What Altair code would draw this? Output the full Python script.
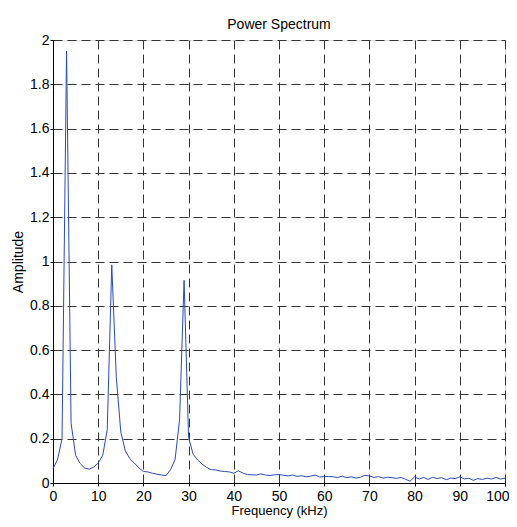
import altair as alt
import pandas as pd

freq_khz = list(range(0, 101))
amplitude = [
    0.065, 0.105, 0.20, 1.95, 0.27, 0.125, 0.088, 0.068, 0.062, 0.072,
    0.090, 0.125, 0.24, 0.985, 0.48, 0.23, 0.145, 0.110, 0.090, 0.068,
    0.052, 0.050, 0.044, 0.040, 0.036, 0.033, 0.060, 0.105, 0.285, 0.915,
    0.205, 0.130, 0.104, 0.085, 0.070, 0.060, 0.059, 0.054, 0.052, 0.050,
    0.044, 0.055, 0.045, 0.038, 0.037, 0.036, 0.041, 0.036, 0.034, 0.037,
    0.038, 0.035, 0.032, 0.036, 0.030, 0.033, 0.028, 0.031, 0.036, 0.027,
    0.029, 0.029, 0.028, 0.025, 0.031, 0.024, 0.028, 0.022, 0.026, 0.035,
    0.032, 0.025, 0.029, 0.022, 0.026, 0.024, 0.021, 0.025, 0.017, 0.008,
    0.028, 0.018, 0.025, 0.016, 0.026, 0.020, 0.024, 0.015, 0.022, 0.020,
    0.028, 0.018, 0.022, 0.012, 0.020, 0.016, 0.022, 0.018, 0.025, 0.018,
    0.022,
]
x_ticks = [0, 10, 20, 30, 40, 50, 60, 70, 80, 90, 100]
y_ticks = [0, 0.2, 0.4, 0.6, 0.8, 1.0, 1.2, 1.4, 1.6, 1.8, 2.0]

df = pd.DataFrame({"f": freq_khz, "a": amplitude})

FONT = "Liberation Sans"

axis_common = dict(
    grid=True,
    gridDash=[9, 5],
    gridColor="#333333",
    gridOpacity=1,
    gridWidth=1,
    domainColor="black",
    tickColor="black",
    tickSize=3,
    labelFont=FONT,
    labelFontSize=14,
    labelColor="black",
    titleFont=FONT,
    titleFontSize=14,
    titleFontWeight="normal",
    titleColor="black",
)

x_axis_opts = dict(axis_common)
x_axis_opts["titleFontSize"] = 13

chart = (
    alt.Chart(df)
    .mark_line(color="#2a4bb5", strokeWidth=1)
    .encode(
        x=alt.X(
            "f:Q",
            scale=alt.Scale(domain=[0, 100], nice=False),
            axis=alt.Axis(
                values=x_ticks,
                title="Frequency (kHz)",
                labelPadding=3,
                titlePadding=1,
                labelFlush=False,
                labelAlign={
                    "condition": {"test": "datum.value === 100", "value": "right"},
                    "value": "center",
                },
                labelOffset={
                    "condition": {"test": "datum.value === 100", "value": 4},
                    "value": 0,
                },
                **x_axis_opts,
            ),
        ),
        y=alt.Y(
            "a:Q",
            scale=alt.Scale(domain=[0, 2], nice=False),
            axis=alt.Axis(
                values=y_ticks,
                format="~g",
                title="Amplitude",
                labelPadding=1,
                titlePadding=4,
                labelFlush=False,
                **axis_common,
            ),
        ),
    )
    .properties(
        width=452,
        height=443,
        autosize=alt.AutoSizeParams(type="none"),
        padding={"left": 45, "top": 32, "right": 4, "bottom": 36},
        title=alt.TitleParams(
            "Power Spectrum",
            font=FONT,
            fontSize=14,
            fontWeight="normal",
            color="black",
            anchor="middle",
            offset=1,
        ),
    )
    .configure_view(stroke="black", strokeWidth=1)
    .configure(background="white")
)

chart.save("out.html", embed_options={"renderer": "svg", "actions": False})
